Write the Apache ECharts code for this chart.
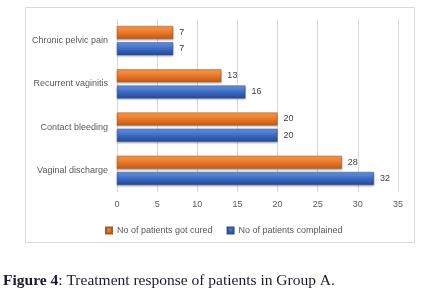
<!DOCTYPE html>
<html>
<head>
<meta charset="UTF-8">
<title>Treatment response</title>
<script src="https://cdn.jsdelivr.net/npm/echarts@6/dist/echarts.min.js"></script>
<style>
  html, body { margin: 0; padding: 0; background: #fff; }
  #main { width: 432px; height: 303px; }
</style>
</head>
<body>
<div id="main"></div>
<script type="text/javascript">
// categories, bottom to top as in the picture
var categories = ['Vaginal discharge', 'Contact bleeding', 'Recurrent vaginitis', 'Chronic pelvic pain'];
var cured = [28, 20, 13, 7];
var complained = [32, 20, 16, 7];
var xTicks = { min: 0, max: 35, interval: 5 };

var myChart = echarts.init(document.getElementById('main'));

function grad(top, mid, bottom) {
    return new echarts.graphic.LinearGradient(0, 0, 0, 1, [
        { offset: 0, color: top },
        { offset: 0.45, color: mid },
        { offset: 1, color: bottom }
    ]);
}

var txt = { color: '#595959', fontSize: 9, fontFamily: 'Liberation Sans' };
var labelStyle = { show: true, position: 'right', distance: 6, color: '#404040', fontSize: 9, fontFamily: 'Liberation Sans' };

var option = {
    animation: false,
    graphic: [
        {
            type: 'rect',
            shape: { x: 25.5, y: 7.5, width: 389, height: 235 },
            style: { fill: 'none', stroke: '#d9d9d9', lineWidth: 1 },
            z: -1
        },
        {
            type: 'text',
            left: 3,
            top: 273,
            style: {
                text: '{b|Figure 4}: Treatment response of patients in Group A.',
                fill: '#1a1a2e',
                font: '15.5px "Liberation Serif", serif',
                rich: {
                    b: { fontWeight: 'bold', fontSize: 15.5, fontFamily: 'Liberation Serif', fill: '#1a1a2e' }
                }
            }
        }
    ],
    legend: {
        data: ['No of patients got cured', 'No of patients complained'],
        left: 100,
        top: 221,
        itemWidth: 6,
        itemHeight: 6,
        itemGap: 14,
        icon: 'rect',
        textStyle: txt
    },
    grid: { left: 117, right: 34, top: 19, bottom: 111 },
    xAxis: {
        type: 'value',
        min: xTicks.min,
        max: xTicks.max,
        interval: xTicks.interval,
        axisLine: { show: false },
        axisTick: { show: false },
        axisLabel: Object.assign({ margin: 8 }, txt),
        splitLine: { lineStyle: { color: '#d9d9d9' } }
    },
    yAxis: {
        type: 'category',
        data: categories,
        axisLine: { show: false },
        axisTick: { show: false },
        axisLabel: Object.assign({ margin: 9 }, txt)
    },
    series: [
        {
            name: 'No of patients got cured',
            type: 'bar',
            data: cured,
            barWidth: 13,
            barGap: '25%',
            itemStyle: { color: grad('#f7a257', '#ee7a2a', '#c25a14'), borderColor: '#ae5a21', borderWidth: 0.5,
                shadowColor: 'rgba(0,0,0,0.3)', shadowBlur: 2, shadowOffsetY: 1 },
            label: labelStyle
        },
        {
            name: 'No of patients complained',
            type: 'bar',
            data: complained,
            barWidth: 13,
            barGap: '25%',
            itemStyle: { color: grad('#6f98e0', '#3f6fc7', '#23489a'), borderColor: '#2f528f', borderWidth: 0.5,
                shadowColor: 'rgba(0,0,0,0.3)', shadowBlur: 2, shadowOffsetY: 1 },
            label: labelStyle
        }
    ]
};

myChart.setOption(option);
</script>
</body>
</html>
